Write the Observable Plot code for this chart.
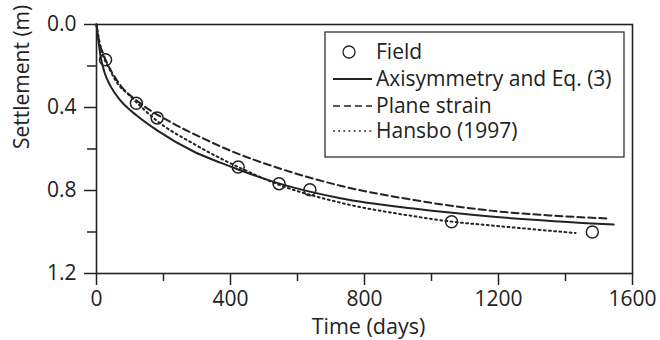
<!DOCTYPE html>
<html>
<head>
<meta charset="utf-8">
<script src="https://cdn.jsdelivr.net/npm/d3@7"></script>
<script src="https://cdn.jsdelivr.net/npm/@observablehq/plot@0.6"></script>
<style>
  html, body { margin: 0; padding: 0; background: white; }
  #chart { width: 660px; height: 340px; }
</style>
</head>
<body>
<div id="chart"></div>
<script>
// Field measurements
const fieldDays = [27, 119, 181, 423, 545, 637, 1060, 1480];
const fieldSettle = [0.17, 0.38, 0.45, 0.687, 0.767, 0.796, 0.951, 1.0];

// Axisymmetry and Eq. (3)
const axiDays = [0, 4, 12, 24, 44, 70, 121, 181, 290, 370, 425, 549, 728, 952, 1176, 1544];
const axiSettle = [0, 0.054, 0.151, 0.231, 0.303, 0.363, 0.44, 0.51, 0.612, 0.666, 0.700, 0.768, 0.837, 0.888, 0.925, 0.964];

// Plane strain
const planeDays = [0, 5, 20, 49, 72, 131, 221, 320, 395, 549, 728, 952, 1176, 1350, 1529];
const planeSettle = [0, 0.06, 0.14, 0.239, 0.294, 0.38, 0.47, 0.55, 0.605, 0.695, 0.777, 0.847, 0.897, 0.920, 0.935];

// Hansbo (1997)
const hansboDays = [0, 5, 14, 39, 64, 94, 181, 290, 370, 425, 549, 718, 952, 1060, 1176, 1430];
const hansboSettle = [0, 0.05, 0.119, 0.215, 0.287, 0.335, 0.465, 0.575, 0.645, 0.688, 0.775, 0.855, 0.925, 0.950, 0.968, 1.005];

// Ticks
const xMajor = [0, 400, 800, 1200, 1600];
const xMinor = [200, 600, 1000, 1400];
const yMajor = [0, 0.4, 0.8, 1.2];
const yMinor = [0.2, 0.6, 1.0];

const legendLabels = ["Field", "Axisymmetry and Eq. (3)", "Plane strain", "Hansbo (1997)"];
const xLabel = "Time (days)";
const yLabel = "Settlement (m)";

const toRows = (xs, ys) => xs.map((x, i) => ({x, y: ys[i]}));
const field = toRows(fieldDays, fieldSettle);
const axi = toRows(axiDays, axiSettle);
const plane = toRows(planeDays, planeSettle);
const hansbo = toRows(hansboDays, hansboSettle);

const ink = "#222";
const font = "'Open Sans', sans-serif";

const chart = Plot.plot({
  width: 660,
  height: 340,
  marginLeft: 96,
  marginRight: 28,
  marginTop: 24,
  marginBottom: 67,
  style: {fontFamily: font, fontSize: "21px", color: ink, background: "white", overflow: "visible"},
  x: {domain: [0, 1600]},
  y: {domain: [0, 1.2], reverse: true},
  marks: [
    Plot.line(axi, {x: "x", y: "y", stroke: ink, strokeWidth: 2, curve: "monotone-x"}),
    Plot.line(plane, {x: "x", y: "y", stroke: ink, strokeWidth: 2, strokeDasharray: "7,4", curve: "monotone-x"}),
    Plot.line(hansbo, {x: "x", y: "y", stroke: ink, strokeWidth: 2, strokeDasharray: "1.8,3.4", curve: "monotone-x"}),
    Plot.dot(field, {x: "x", y: "y", r: 6, stroke: ink, strokeWidth: 1.5, fill: "none"}),
    Plot.frame({stroke: ink, strokeWidth: 1.6}),
    Plot.axisX({ticks: xMajor, tickSize: 12, tickPadding: 6, tickFormat: d => String(d), label: null, stroke: ink, strokeWidth: 1.5}),
    Plot.axisX({ticks: xMinor, tickSize: 8, tickFormat: () => "", label: null, stroke: ink, strokeWidth: 1.5}),
    Plot.axisY({ticks: yMajor, tickSize: 12, tickPadding: 8, tickFormat: d => d.toFixed(1), label: null, stroke: ink, strokeWidth: 1.5}),
    Plot.axisY({ticks: yMinor, tickSize: 9, tickFormat: () => "", label: null, stroke: ink, strokeWidth: 1.5}),
    Plot.text([xLabel], {frameAnchor: "bottom", dx: 4, dy: 60, text: d => d, fontSize: 21.5, fill: ink}),
    Plot.text([yLabel], {frameAnchor: "left", dx: -74, rotate: -90, text: d => d, fontSize: 21, fill: ink})
  ]
});

document.getElementById("chart").appendChild(chart);

// Legend inside the plot area
const svg = d3.select(chart);
const lg = svg.append("g").attr("font-family", font).attr("font-size", 21)
  .attr("fill", ink).attr("text-anchor", "start");
lg.append("rect").attr("x", 325).attr("y", 32).attr("width", 299).attr("height", 125)
  .attr("fill", "white").attr("stroke", ink).attr("stroke-width", 1.2);
const rowsY = [52, 79, 106, 131];
const styles = [null, null, "7,4", "1.8,3.4"];
legendLabels.forEach((lab, i) => {
  const y = rowsY[i];
  if (i === 0) {
    lg.append("circle").attr("cx", 349).attr("cy", y).attr("r", 6)
      .attr("fill", "none").attr("stroke", ink).attr("stroke-width", 1.3);
  } else {
    const l = lg.append("line").attr("x1", 333).attr("x2", 372).attr("y1", y).attr("y2", y)
      .attr("stroke", ink).attr("stroke-width", i === 1 ? 2 : 1.6);
    if (styles[i]) l.attr("stroke-dasharray", styles[i]);
  }
  lg.append("text").attr("x", 376).attr("y", y).attr("dy", "0.35em").text(lab);
});
</script>
</body>
</html>
